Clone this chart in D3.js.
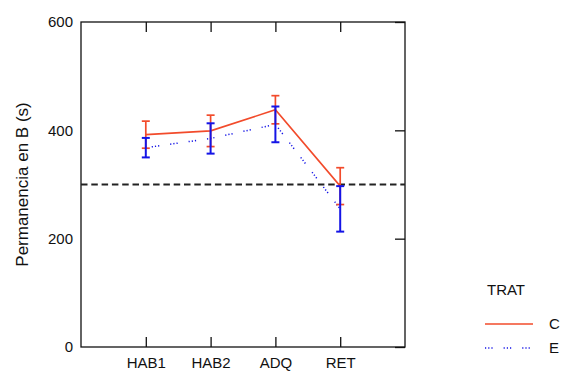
<!DOCTYPE html>
<html><head><meta charset="utf-8">
<script src="https://cdn.jsdelivr.net/npm/d3@7"></script>
<style>body{margin:0;background:#fff}svg{display:block}text{font-family:"Liberation Sans",Arial,sans-serif;fill:#111}</style>
</head><body>
<svg id="c" width="563" height="371"></svg>
<script>
const categories = ["HAB1","HAB2","ADQ","RET"];
const seriesNames = ["C","E"];
const cMean = [392, 399, 438, 297];
const cErr  = [25, 29, 26, 34];
const eMean = [368, 385, 411, 255];
const eErr  = [18, 28, 33, 42];
const yTicks = [0, 200, 400, 600];
const refLine = 300;
const yLabel = "Permanencia en B (s)";
const legendTitle = "TRAT";

const svg = d3.select("#c");
const L = 81, R = 405, T = 22, B = 347;
const x = d3.scalePoint().domain(categories).range([L, R]).padding(1);
const y = d3.scaleLinear().domain([0, 600]).range([B, T]);

// frame
svg.append("rect").attr("x", L).attr("y", T).attr("width", R-L).attr("height", B-T)
  .attr("fill","none").attr("stroke","#111").attr("stroke-width",1.3);

// y axis labels (no ticks on left)
const ya = svg.append("g").attr("transform",`translate(${L},0)`)
  .call(d3.axisLeft(y).tickValues(yTicks).tickSize(0).tickPadding(8));
ya.select(".domain").remove();
ya.selectAll("text").style("font-size","15px").attr("fill","#111");
// right inward ticks
svg.append("g").attr("transform",`translate(${R},0)`)
  .call(d3.axisLeft(y).tickValues(yTicks).tickSize(10).tickFormat(""))
  .call(g=>g.select(".domain").remove())
  .selectAll("line").attr("stroke","#111").attr("stroke-width",1.3);

// bottom axis: labels and inward ticks
const xa = svg.append("g").attr("transform",`translate(0,${B})`)
  .call(d3.axisBottom(x).tickSize(0).tickPadding(10));
xa.select(".domain").remove();
xa.selectAll("text").style("font-size","15px").attr("fill","#111");
svg.append("g").attr("transform",`translate(0,${B})`)
  .call(d3.axisTop(x).tickSize(10).tickFormat(""))
  .call(g=>g.select(".domain").remove())
  .selectAll("line").attr("stroke","#111").attr("stroke-width",1.3);
svg.append("g").attr("transform",`translate(0,${T})`)
  .call(d3.axisBottom(x).tickSize(10).tickFormat(""))
  .call(g=>g.select(".domain").remove())
  .selectAll("line").attr("stroke","#111").attr("stroke-width",1.3);

// reference line
svg.append("line").attr("x1", L).attr("x2", R).attr("y1", y(refLine)).attr("y2", y(refLine))
  .attr("stroke","#222").attr("stroke-width",1.8).attr("stroke-dasharray","6.5,3.8");

// y label
svg.append("text").attr("transform",`translate(28,${(T+B)/2}) rotate(-90)`)
  .attr("text-anchor","middle").style("font-size","17px").text(yLabel);

const red = "#f24b2b", blue = "#1414e6";
const dots = "1.2,2,1.2,2,1.2,11";
const line = d3.line().x((d,i)=>x(categories[i])).y(d=>y(d));
svg.append("path").datum(cMean).attr("d", line).attr("fill","none")
  .attr("stroke", red).attr("stroke-width",1.6);
svg.append("path").datum(eMean).attr("d", line).attr("fill","none")
  .attr("stroke", blue).attr("stroke-width",1.5).attr("stroke-dasharray",dots)
  .attr("stroke-dashoffset",-6);

function errBars(means, errs, color, w, cap) {
  const g = svg.append("g").attr("stroke", color).attr("stroke-width", w);
  means.forEach((m,i)=>{
    const cx = x(categories[i]);
    g.append("line").attr("x1",cx).attr("x2",cx).attr("y1",y(m-errs[i])).attr("y2",y(m+errs[i]));
    g.append("line").attr("x1",cx-cap).attr("x2",cx+cap).attr("y1",y(m+errs[i])).attr("y2",y(m+errs[i]));
    g.append("line").attr("x1",cx-cap).attr("x2",cx+cap).attr("y1",y(m-errs[i])).attr("y2",y(m-errs[i]));
  });
}
errBars(cMean, cErr, red, 1.7, 4);
errBars(eMean, eErr, blue, 2, 4);

// legend
svg.append("text").attr("x", 506).attr("y", 295).attr("text-anchor","middle")
  .style("font-size","15px").text(legendTitle);
const legColors = [red, blue];
seriesNames.forEach((s,i)=>{
  const ly = 324 + i*24;
  const ln = svg.append("line").attr("x1",485).attr("x2",533).attr("y1",ly).attr("y2",ly)
    .attr("stroke", legColors[i]).attr("stroke-width",1.6);
  if (i===1) ln.attr("stroke-dasharray",dots);
  svg.append("text").attr("x",549).attr("y",ly+5).style("font-size","15px").text(s);
});
</script>
</body></html>
